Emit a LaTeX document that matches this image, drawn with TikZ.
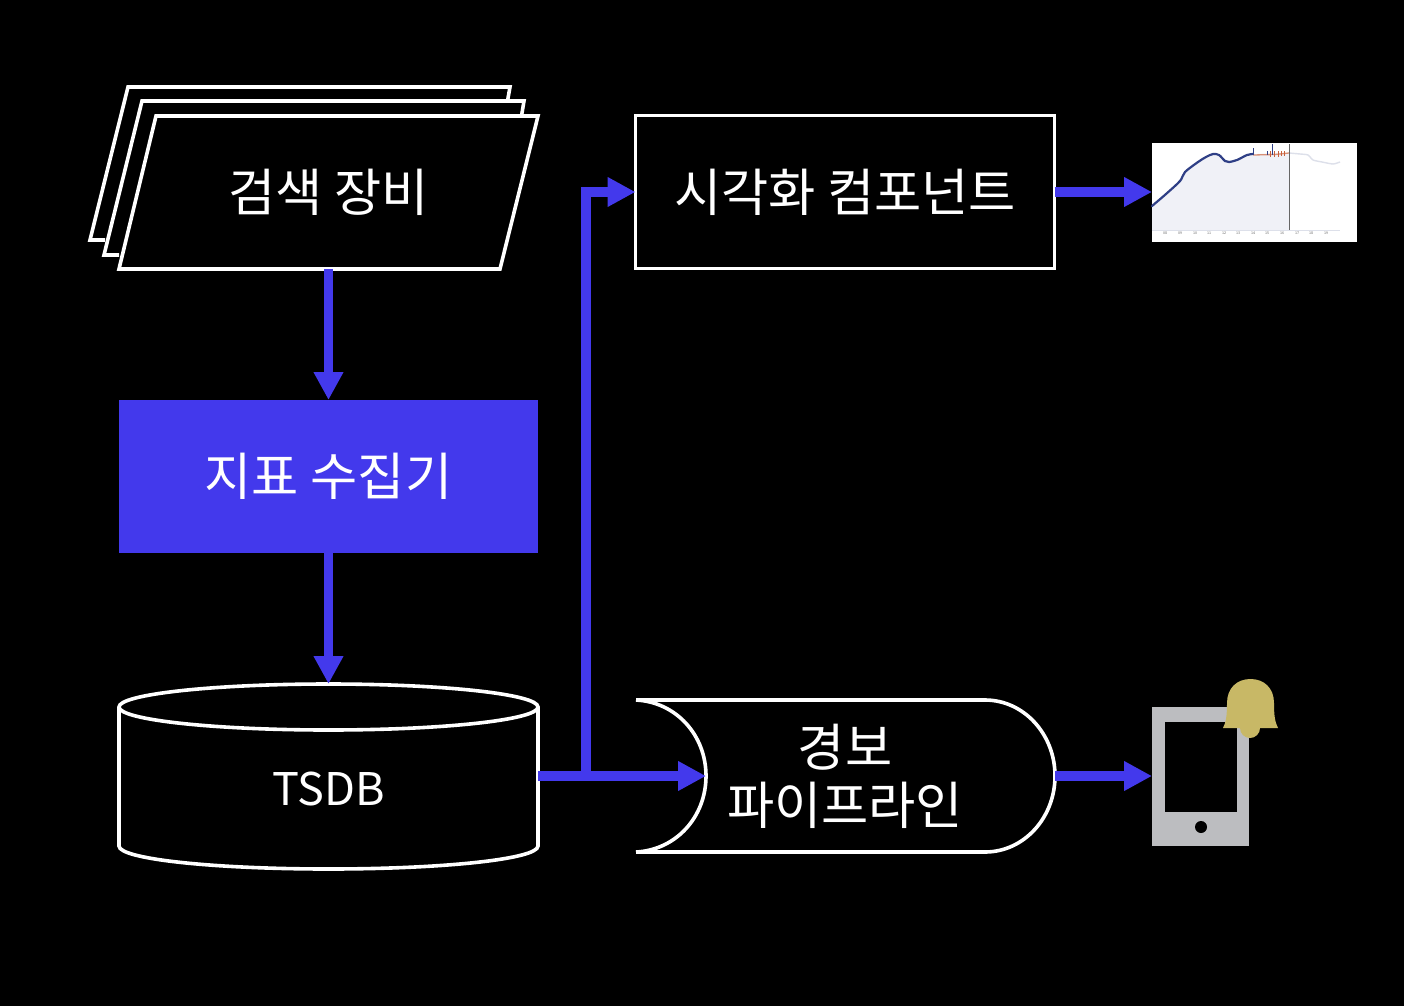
\documentclass[tikz,border=0pt]{standalone}
\usepackage{fontspec}
\setmainfont{Noto Sans CJK KR}
\usetikzlibrary{arrows.meta}
\definecolor{flow}{HTML}{4339EC}
\definecolor{phonegray}{HTML}{BCBDC0}
\definecolor{bellgold}{HTML}{C8B866}
\definecolor{chartfill}{HTML}{F0F1F7}
\definecolor{chartline}{HTML}{2F3F86}
\definecolor{chartghost}{HTML}{DDE0EA}
\definecolor{chartred}{HTML}{C8603C}
\tikzset{
  shapeline/.style={draw=white,line width=3.6pt,line join=miter},
  label/.style={text=white,font=\fontsize{51.3}{58}\selectfont,align=center,inner sep=0pt},
  anchorbox/.style={inner sep=0pt,outer sep=0pt,minimum width=#1,minimum height=153pt},
  flowline/.style={draw=flow,line width=9.5pt},
  flowarrow/.style={flowline,-{Triangle[length=28pt,width=28pt]}},
}
\begin{document}
\begin{tikzpicture}[x=1pt,y=-1pt]
\useasboundingbox[fill=black] (0,0) rectangle (1404,1006);

% stacked parallelograms
\draw[shapeline] (507.5,101) -- (510,87) -- (128,87) -- (90,240) -- (105,240);
\draw[shapeline] (521.5,116) -- (524,101) -- (142,101) -- (104,255) -- (119,255);
\draw[shapeline] (156,116) -- (538,116) -- (500,269) -- (119,269) -- cycle;
\node[label,anchorbox=419pt] (search) at (328.5,192.5) {검색 장비};

% collector
\node[label,anchorbox=419pt,fill=flow] (collector) at (328.5,476.5) {지표 수집기};

% TSDB
\draw[shapeline] (119,707) -- (119,846) .. controls (119,859) and (213,869) .. (328.5,869)
  .. controls (444,869) and (538,859) .. (538,846) -- (538,707);
\draw[shapeline] (328.5,707) ellipse [x radius=209.5pt,y radius=23pt];
\node[inner sep=0pt,outer sep=0pt,minimum width=419pt,minimum height=185pt] (tsdb) at (328.5,776.5) {};
\node[text=white,font=\fontsize{45}{54}\selectfont,inner sep=0pt] (tsdbtext) at (328.5,789) {TSDB};

% visualisation
\node[label,shapeline,anchorbox=419pt] (viz) at (845,192) {시각화 컴포넌트};

% alert pipeline
\draw[shapeline] (636,700) -- (985,700) arc[start angle=90,end angle=-90,x radius=70pt,y radius=76pt] -- (636,852);
\draw[shapeline] (636,700) .. controls (676,702) and (706,735) .. (706,776)
  .. controls (706,817) and (676,850) .. (636,852);
\coordinate (pipein) at (706,776);
\coordinate (pipeout) at (1055,776);
\node[label] (pipe) at (845,776) {경보\\파이프라인};

% chart
\node[fill=white,inner sep=0pt,outer sep=0pt,minimum width=205pt,minimum height=99pt] (chart) at (1254.5,192.5) {};
\fill[chartfill] plot[smooth,tension=.5] coordinates {(1152,206) (1166,194) (1180,181) (1185,172) (1198,162) (1206,157) (1213,154) (1219,155) (1225,161) (1229,162) (1237,160) (1247,155) (1258,154) (1275,153) (1289,153)} -- (1289,230) -- (1152,230) -- cycle;
\draw[chartline,line width=2.2pt,line cap=round] plot[smooth,tension=.5] coordinates {(1152,206) (1166,194) (1180,181) (1185,172) (1198,162) (1206,157) (1213,154) (1219,155) (1225,161) (1229,162) (1237,160) (1247,155) (1253,154)};
\draw[chartred!70,line width=1.3pt] (1253,155) -- (1275,154.5) -- (1289,153);
\draw[chartline,line width=1pt] (1253,155) -- (1253,148) (1267,155) -- (1267,151) (1272,155) -- (1272,144);
\draw[chartred,line width=.7pt] (1270,151) -- (1270,157) (1274,151) -- (1274,157) (1278,151) -- (1278,157) (1281,151) -- (1281,156) (1284,151) -- (1284,156);
\draw[chartghost,line width=1.4pt] plot[smooth,tension=.4] coordinates {(1289,153) (1300,154) (1308,155) (1313,160) (1322,162) (1333,164) (1340,162)};
\draw[black!60,line width=.8pt] (1289,144) -- (1289,230);
\draw[chartghost,line width=.8pt] (1152,230) -- (1340,230);
\foreach \tx/\tl in {1165/08,1180/09,1195/10,1209/11,1224/12,1238/13,1253/14,1267/15,1282/16,1297/17,1311/18,1326/19}{
  \node[text=black!60,font=\fontsize{3.6}{4}\selectfont,inner sep=0pt] at (\tx,233.5) {\tl};
}

% phone
\node[fill=phonegray,inner sep=0pt,outer sep=0pt,minimum width=97pt,minimum height=139pt] (phone) at (1200.5,776.5) {};
\fill[black] (1165,722) rectangle (1237,812);
\fill[black] (1201,827) circle[radius=6pt];
\fill[bellgold] (1250,728) circle[radius=10pt];
\fill[bellgold] (1223,728) .. controls (1226,722) and (1227,716) .. (1227,703)
  .. controls (1227,688) and (1237,679) .. (1250.5,679)
  .. controls (1264,679) and (1274,688) .. (1274,703)
  .. controls (1274,716) and (1275,722) .. (1278,728) -- cycle;

% connectors
\draw[flowarrow] (search.south) -- (collector.north);
\draw[flowarrow] (collector.south) -- (tsdb.north);
\coordinate (branch) at (586,776);
\draw[flowarrow] (tsdb.east |- pipein) -- (pipein);
\draw[flowarrow] (branch) |- (viz.west);
\draw[flowarrow] (viz.east) -- (chart.west |- viz.east);
\draw[flowarrow] (pipeout) -- (phone.west |- pipeout);
\end{tikzpicture}
\end{document}
